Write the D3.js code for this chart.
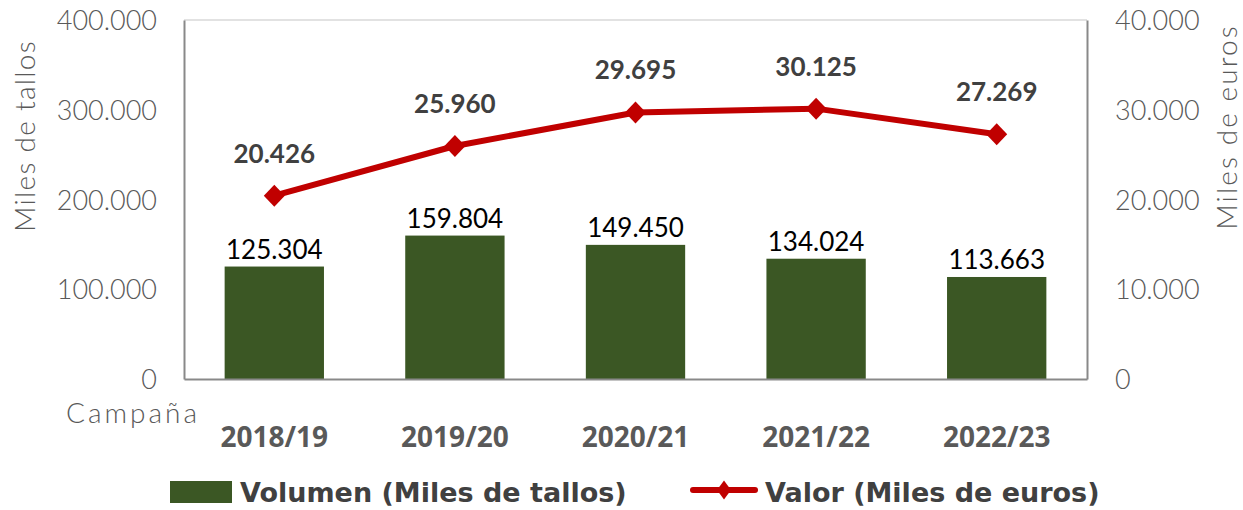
<!DOCTYPE html>
<html><head><meta charset="utf-8">
<script src="https://cdn.jsdelivr.net/npm/d3@7"></script>
<style>body{margin:0;background:#fff}svg{display:block}</style>
</head><body>
<svg id="c" width="1243" height="510"></svg>
<script>
const categories = ["2018/19","2019/20","2020/21","2021/22","2022/23"];
const volumen = [125304,159804,149450,134024,113663];
const valor = [20426,25960,29695,30125,27269];
const leftTicks = [0,100000,200000,300000,400000];
const rightTicks = [0,10000,20000,30000,40000];

const fmt = v => d3.format(",")(v).replace(/,/g,".");
const svg = d3.select("#c");
const L=184, R=1087, T=20, B=379;
const x = d3.scaleBand().domain(categories).range([L,R]).paddingInner(0.45).paddingOuter(0.225);
const yL = d3.scaleLinear().domain([0,400000]).range([B,T]);
const yR = d3.scaleLinear().domain([0,40000]).range([B,T]);
const light = "Lato", lw = 300, tickCol="#595959";
const diamond = (w,h) => `M0,${-h}L${w},0L0,${h}L${-w},0Z`;

// frame
svg.append("line").attr("x1",L).attr("x2",R).attr("y1",T).attr("y2",T).attr("stroke","#d9d9d9").attr("stroke-width",1.5);

// bars
svg.selectAll("rect.bar").data(categories).join("rect")
  .attr("x",d=>x(d)).attr("width",x.bandwidth())
  .attr("y",(d,i)=>yL(volumen[i])).attr("height",(d,i)=>B-yL(volumen[i]))
  .attr("fill","#3b5724");
svg.selectAll("text.bl").data(categories).join("text")
  .attr("x",d=>x(d)+x.bandwidth()/2).attr("y",(d,i)=>yL(volumen[i])-8)
  .attr("text-anchor","middle").attr("font-family",light).attr("font-size",26)
  .attr("fill","#000").text((d,i)=>fmt(volumen[i]));

// axes
const axL = svg.append("g").attr("transform",`translate(${L},0)`).call(d3.axisLeft(yL).tickValues(leftTicks).tickSize(0).tickPadding(27).tickFormat(fmt));
const axR = svg.append("g").attr("transform",`translate(${R},0)`).call(d3.axisRight(yR).tickValues(rightTicks).tickSize(0).tickPadding(28).tickFormat(fmt));
const axB = svg.append("g").attr("transform",`translate(0,${B})`).call(d3.axisBottom(x).tickSize(0).tickPadding(68));
[axL,axR,axB].forEach(a=>a.select(".domain").attr("stroke","#898989").attr("stroke-width",2));
[axL,axR].forEach(a=>a.selectAll("text").attr("font-family",light).attr("font-weight",lw).attr("font-size",27).attr("fill",tickCol).attr("dy","0.36em"));
axB.selectAll("text").attr("font-family","Open Sans").attr("font-weight",700).attr("font-size",28).attr("fill","#595959").attr("dy","0");

// axis titles
svg.append("text").attr("transform",`translate(35,136) rotate(-90)`).attr("text-anchor","middle")
  .attr("font-family",light).attr("font-weight",lw).attr("font-size",28).attr("letter-spacing",1.3).attr("fill",tickCol).text("Miles de tallos");
svg.append("text").attr("transform",`translate(1237,127) rotate(-90)`).attr("text-anchor","middle")
  .attr("font-family",light).attr("font-weight",lw).attr("font-size",28).attr("letter-spacing",2.1).attr("fill",tickCol).text("Miles de euros");
svg.append("text").attr("x",200).attr("y",423).attr("text-anchor","end")
  .attr("font-family",light).attr("font-weight",lw).attr("font-size",28).attr("letter-spacing",3).attr("fill",tickCol).text("Campaña");

// line
const cx = d=>x(d)+x.bandwidth()/2;
const line = d3.line().x((d,i)=>cx(categories[i])).y(d=>yR(d));
svg.append("path").datum(valor).attr("d",line).attr("fill","none").attr("stroke","#c00000").attr("stroke-width",6).attr("stroke-linejoin","round");
svg.selectAll("path.mk").data(valor).join("path")
  .attr("d",diamond(10.5,11))
  .attr("transform",(d,i)=>`translate(${cx(categories[i])},${yR(d)})`).attr("fill","#c00000");
svg.selectAll("text.ll").data(valor).join("text")
  .attr("x",(d,i)=>cx(categories[i])).attr("y",d=>yR(d)-33)
  .attr("text-anchor","middle").attr("font-family","Lato").attr("font-weight",700).attr("font-size",26)
  .attr("fill","#404040").text(d=>fmt(d));

// legend
svg.append("rect").attr("x",170).attr("y",481).attr("width",62).attr("height",22).attr("fill","#3b5724");
svg.append("text").attr("x",240).attr("y",502).attr("font-family","DejaVu Sans").attr("font-weight",700).attr("font-size",27).attr("fill","#404040").text("Volumen (Miles de tallos)");
svg.append("line").attr("x1",693).attr("x2",755).attr("y1",490).attr("y2",490).attr("stroke","#c00000").attr("stroke-width",6).attr("stroke-linecap","round");
svg.append("path").attr("d",diamond(7,9.5)).attr("transform","translate(724,490)").attr("fill","#c00000");
svg.append("text").attr("x",765).attr("y",502).attr("font-family","DejaVu Sans").attr("font-weight",700).attr("font-size",27).attr("fill","#404040").text("Valor (Miles de euros)");
</script>
</body></html>
